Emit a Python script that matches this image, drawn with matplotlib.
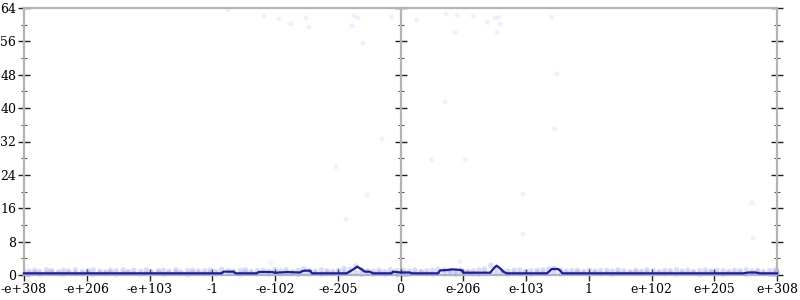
import matplotlib
matplotlib.use("Agg")
import matplotlib.pyplot as plt
from matplotlib.ticker import MultipleLocator, NullFormatter

# X positions are in "tick index" units: 0 .. 12, with 6 = zero
tick_labels = ["-e+308", "-e+206", "-e+103", "-1", "-e-102", "-e-205", "0",
               "e-206", "e-103", "1", "e+102", "e+205", "e+308"]

# Mean error line
line_x = [0.0, 1.0, 2.0, 3.0, 3.15, 3.18, 3.34, 3.37, 3.71, 3.74, 3.95, 4.0, 4.2, 4.40,
          4.43, 4.47, 4.56, 4.59, 5.14, 5.25, 5.31, 5.38, 5.43, 5.51, 5.56, 5.86, 5.88,
          6.0, 6.15, 6.18, 6.60, 6.63, 6.75, 6.82, 6.97, 7.0, 7.43, 7.48, 7.53, 7.58,
          7.64, 7.69, 8.33, 8.38, 8.41, 8.51, 8.55, 8.58, 11.46, 11.55, 11.65, 11.73, 12.0]
line_y = [0.4, 0.4, 0.4, 0.4, 0.4, 0.8, 0.8, 0.4, 0.4, 0.72, 0.72, 0.55, 0.7, 0.6,
          0.9, 1.04, 1.04, 0.4, 0.4, 1.36, 2.0, 1.36, 0.8, 0.8, 0.4, 0.4, 0.8,
          0.6, 0.6, 0.4, 0.4, 1.1, 1.2, 1.35, 1.2, 0.55, 0.55, 1.5, 2.24, 1.7,
          0.8, 0.4, 0.4, 1.0, 1.44, 1.44, 1.0, 0.4, 0.4, 0.6, 0.6, 0.4, 0.4]

# Per-sample error points (dense band near zero)
band_x = [0.08, 0.17, 0.25, 0.36, 0.44, 0.55, 0.63, 0.71, 0.82, 0.93,
          1.02, 1.10, 1.21, 1.30, 1.38, 1.47, 1.58, 1.66, 1.75, 1.86,
          1.95, 2.03, 2.14, 2.22, 2.31, 2.42, 2.50, 2.61, 2.69, 2.78,
          2.88, 2.97, 3.06, 3.15, 3.26, 3.34, 3.45, 3.53, 3.62, 3.72,
          3.81, 3.90, 4.00, 4.09, 4.18, 4.28, 4.37, 4.46, 4.55, 4.64,
          4.74, 4.83, 4.92, 5.01, 5.10, 5.20, 5.29, 5.38, 5.47, 5.57,
          5.66, 5.75, 5.84, 5.94, 6.05, 6.14, 6.23, 6.33, 6.42, 6.51,
          6.60, 6.70, 6.79, 6.88, 6.97, 7.07, 7.16, 7.25, 7.34, 7.44,
          7.53, 7.62, 7.71, 7.81, 7.90, 7.99, 8.08, 8.18, 8.27, 8.36,
          8.45, 8.55, 8.64, 8.73, 8.82, 8.92, 9.01, 9.10, 9.19, 9.29,
          9.38, 9.47, 9.56, 9.66, 9.75, 9.84, 9.93, 10.03, 10.12, 10.21,
          10.30, 10.40, 10.49, 10.58, 10.67, 10.77, 10.86, 10.95, 11.04, 11.14,
          11.23, 11.32, 11.41, 11.51, 11.60, 11.69, 11.78, 11.88, 11.97, 12.0]
band_y_high = [0.9, 1.1, 0.8, 1.2, 1.0, 0.7, 1.1, 0.9, 1.2, 0.8,
               1.0, 1.2, 0.9, 0.7, 1.1, 1.0, 1.2, 0.8, 1.1, 0.9,
               1.2, 0.8, 1.0, 1.1, 0.9, 1.2, 0.7, 1.0, 1.1, 0.9,
               1.0, 1.2, 0.8, 1.3, 1.0, 0.9, 1.1, 1.2, 0.8, 1.0,
               1.1, 0.9, 1.3, 1.0, 1.2, 0.8, 1.1, 1.4, 1.0, 0.9,
               1.2, 1.0, 0.8, 1.1, 1.5, 1.3, 2.1, 1.2, 1.0, 0.9,
               1.1, 0.8, 1.2, 1.0, 1.1, 0.9, 1.2, 0.8, 1.0, 1.1,
               1.3, 1.2, 1.0, 0.9, 1.1, 0.8, 1.0, 1.2, 1.4, 2.3,
               1.5, 1.0, 0.9, 1.1, 1.2, 0.8, 1.0, 1.1, 1.2, 1.4,
               1.6, 1.2, 0.9, 1.0, 1.1, 0.8, 1.2, 0.9, 1.0, 1.1,
               0.9, 1.2, 1.0, 0.8, 1.1, 0.9, 1.2, 1.0, 0.8, 1.1,
               1.0, 1.2, 0.9, 1.1, 0.8, 1.0, 1.2, 0.9, 1.1, 1.0,
               0.8, 1.1, 1.0, 1.2, 0.9, 1.1, 0.8, 1.0, 1.2, 0.9]
band_y_low = [0.3, 0.5, 0.2, 0.4, 0.6, 0.3, 0.2, 0.5, 0.4, 0.3,
              0.5, 0.2, 0.4, 0.3, 0.6, 0.2, 0.4, 0.5, 0.3, 0.2,
              0.4, 0.3, 0.5, 0.2, 0.4, 0.6, 0.3, 0.2, 0.5, 0.4,
              0.3, 0.5, 0.2, 0.4, 0.3, 0.5, 0.2, 0.6, 0.4, 0.3,
              0.5, 0.2, 0.4, 0.3, 0.6, 0.4, 0.2, 0.5, 0.3, 0.4,
              0.2, 0.5, 0.3, 0.4, 0.6, 0.3, 0.5, 0.2, 0.4, 0.3,
              0.5, 0.2, 0.4, 0.3, 0.5, 0.2, 0.4, 0.6, 0.3, 0.2,
              0.4, 0.3, 0.5, 0.2, 0.4, 0.6, 0.3, 0.2, 0.5, 0.4,
              0.3, 0.5, 0.2, 0.4, 0.3, 0.5, 0.2, 0.6, 0.4, 0.3,
              0.5, 0.2, 0.4, 0.3, 0.6, 0.4, 0.2, 0.5, 0.3, 0.4,
              0.2, 0.5, 0.3, 0.4, 0.6, 0.3, 0.5, 0.2, 0.4, 0.3,
              0.5, 0.2, 0.4, 0.3, 0.5, 0.2, 0.4, 0.6, 0.3, 0.2,
              0.4, 0.3, 0.5, 0.2, 0.4, 0.6, 0.3, 0.2, 0.5, 0.4]

# Scattered high-error points
outlier_x = [3.25, 3.82, 4.06, 4.25, 4.49, 4.54, 5.26, 5.32, 5.23, 5.86, 5.40, 5.71,
             4.97, 5.47, 5.13, 6.26, 6.73, 6.90, 7.16, 7.38, 7.51, 7.57, 7.59, 6.87,
             7.54, 8.41, 8.49, 6.71, 8.46, 6.49, 7.03, 7.95, 7.95, 11.60, 11.62, 3.93, 6.95]
outlier_y = [63.6, 62.1, 61.4, 60.2, 61.6, 59.4, 62.1, 61.6, 59.7, 61.8, 55.6, 32.6,
             25.9, 19.2, 13.4, 61.1, 62.6, 62.3, 62.1, 60.6, 61.6, 61.8, 60.2, 58.2,
             58.2, 61.8, 48.2, 41.5, 35.0, 27.6, 27.6, 19.4, 9.8, 17.3, 8.9, 2.9, 3.2]

plt.rcParams['font.family'] = ['DejaVu Serif']

fig = plt.figure(figsize=(8, 3), dpi=100)
ax = fig.add_axes([24 / 800, 1 - 275 / 300, (777 - 24) / 800, (275 - 8) / 300])

pt_color = '#7f8cf0'
ax.scatter(band_x, band_y_high, s=16, color=pt_color, alpha=0.3, edgecolors='none', zorder=2, clip_on=False)
ax.scatter(band_x, band_y_low, s=16, color=pt_color, alpha=0.3, edgecolors='none', zorder=2, clip_on=False)
ax.scatter(outlier_x, outlier_y, s=12, color=pt_color, alpha=0.13, edgecolors='none', zorder=2)

ax.plot(line_x, line_y, color='#1c1ca0', lw=1.6, zorder=4, clip_on=False, solid_joinstyle='round')

ax.set_xlim(0, 12)
ax.set_ylim(0, 64)

axis_color = '#b4b4b4'
for side in ['left', 'right', 'top', 'bottom']:
    ax.spines[side].set_color(axis_color)
    ax.spines[side].set_linewidth(1.6)

ax.set_xticks(range(len(tick_labels)))
ax.set_xticklabels(tick_labels)
ax.yaxis.set_major_locator(MultipleLocator(8))
ax.yaxis.set_minor_locator(MultipleLocator(4))

ax.tick_params(axis='x', which='major', direction='inout', length=9, width=1.0,
               color='#222222', labelsize=9, pad=1)
ax.tick_params(axis='y', which='major', direction='inout', length=9, width=1.0,
               color='#222222', labelsize=9, pad=1, left=True, right=True)
ax.tick_params(axis='y', which='minor', direction='inout', length=4, width=0.8,
               color='#555555', left=True, right=True)

mid = ax.secondary_yaxis(0.5)
for side in mid.spines:
    mid.spines[side].set_color(axis_color)
    mid.spines[side].set_linewidth(1.6)
mid.yaxis.set_major_locator(MultipleLocator(8))
mid.yaxis.set_minor_locator(MultipleLocator(4))
mid.yaxis.set_major_formatter(NullFormatter())
mid.yaxis.set_minor_formatter(NullFormatter())
mid.tick_params(axis='y', which='major', direction='inout', length=9, width=1.0,
                color='#222222', labelleft=False, labelright=False)
mid.tick_params(axis='y', which='minor', direction='inout', length=4, width=0.8,
                color='#555555', labelleft=False, labelright=False)

fig.savefig('out.png', dpi=100)
